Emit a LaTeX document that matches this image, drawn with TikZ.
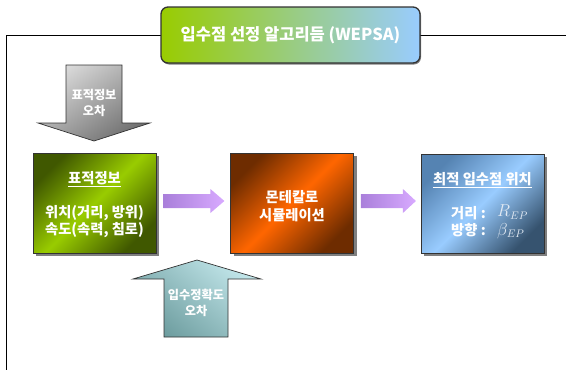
\documentclass[tikz,border=0pt]{standalone}
\usepackage{fontspec}
\newfontfamily\kr{Noto Sans CJK KR}
\usetikzlibrary{shadows}
\definecolor{greenD}{HTML}{405800}
\definecolor{greenL}{HTML}{99CC00}
\definecolor{orangeD}{HTML}{6E2C00}
\definecolor{orangeL}{HTML}{FF6600}
\definecolor{blueD}{HTML}{36536F}
\definecolor{blueL}{HTML}{99CCFF}
\definecolor{blueM}{HTML}{5583B2}
\definecolor{purpD}{HTML}{A47AD6}
\definecolor{purpL}{HTML}{D8AAFF}
\definecolor{grayL}{HTML}{DADADA}
\definecolor{grayD}{HTML}{707070}
\definecolor{tealL}{HTML}{C2E6EA}
\definecolor{tealD}{HTML}{6C9C9E}
\definecolor{edge}{HTML}{333333}
\definecolor{mathc}{HTML}{E2EAF3}
\tikzset{
  box/.style={draw=edge, line width=0.8pt, minimum width=123pt, minimum height=100pt, inner sep=0pt,
    drop shadow={shadow xshift=3pt, shadow yshift=-3pt, fill=black, opacity=0.5}},
  lbl/.style={text=white, font=\kr\bfseries\fontsize{14.3}{16}\selectfont, inner sep=0pt},
  albl/.style={text=white, font=\kr\bfseries\fontsize{12.2}{14}\selectfont, inner sep=0pt},
  blockarrow/.style={draw=edge, line width=0.7pt},
}
\begin{document}
\begin{tikzpicture}[x=1pt,y=-1pt]
\useasboundingbox (0,0) rectangle (566,370);
% frame
\coordinate (fr) at (566,35);
\coordinate (fl) at (6,35);
\coordinate (fb) at (6,370);
\draw[line width=0.9pt] (fr) -- (fl) -- (fb);
% title
\node[draw=edge, line width=1.3pt, rounded corners=7pt, minimum width=259pt, minimum height=56pt,
  left color=greenL, right color=blueL, inner sep=0pt,
  drop shadow={shadow xshift=1pt, shadow yshift=-1.5pt, fill=black, opacity=0.5},
  text=white, font=\kr\bfseries\fontsize{16.5}{18}\selectfont] (title) at (290.5,35) {입수점 선정 알고리듬 (WEPSA)};
% gray arrow (down)
\path[blockarrow, top color=grayL, bottom color=grayD, shading angle=35]
  (66,65) -- (122,65) -- (122,123) -- (150,123) -- (94,141) -- (38,123) -- (66,123) -- cycle;
\node[albl] (ga1) at (94,95) {표적정보};
\node[albl] (ga2) at (94,111) {오차};
% boxes
\node[box, top color=greenD, bottom color=greenD, middle color=greenL, shading angle=45] (tgt) at (94.5,203) {};
\node[box, top color=orangeD, bottom color=orangeD, middle color=orangeL, shading angle=45] (mc) at (292,203) {};
\node[box, top color=blueM, bottom color=blueD, middle color=blueL, shading angle=45, minimum height=99pt] (opt) at (482.5,203.5) {};
% green box text
\node[lbl] (t1) at (94.5,179) {\underline{표적정보}};
\node[lbl] (t2) at (94.5,213) {위치(거리, 방위)};
\node[lbl] (t3) at (94.5,230) {속도(속력, 침로)};
% orange box text
\node[lbl] (m1) at (292,197) {몬테칼로};
\node[lbl] (m2) at (292,215) {시뮬레이션};
% blue box text
\node[lbl] (o1) at (482.5,180) {\underline{최적 입수점 위치}};
\node[lbl, anchor=west] (o2) at (451,213) {거리 :};
\node[lbl, anchor=west] (o3) at (451,230) {방향 :};
\node[text=mathc, inner sep=0pt, anchor=west, font=\fontsize{16}{16}\selectfont] (o4) at (497,212) {$R_{EP}$};
\node[text=mathc, inner sep=0pt, anchor=west, font=\fontsize{16}{16}\selectfont] (o5) at (497,231) {$\beta_{EP}$};
% purple arrows
\path[blockarrow, draw=none, left color=purpD, right color=purpL]
  (tgt.east) ++(7,-9) coordinate (pa1) -- ++(47,0) -- ++(0,-5) -- ++(14,12) -- ++(-14,12) -- ++(0,-5) -- ++(-47,0) -- cycle;
\path[blockarrow, draw=none, left color=purpD, right color=purpL]
  (mc.east) ++(7,-9) coordinate (pa2) -- ++(42,0) -- ++(0,-5) -- ++(13,12) -- ++(-13,12) -- ++(0,-5) -- ++(-42,0) -- cycle;
% teal arrow (up)
\path[blockarrow, top color=tealL, bottom color=tealD, shading angle=-40]
  (164,337) -- (228,337) -- (228,279) -- (261,279) -- (197,260) -- (133,279) -- (164,279) -- cycle;
\node[albl] (ta1) at (196,295) {입수정확도};
\node[albl] (ta2) at (196,311) {오차};
\end{tikzpicture}
\end{document}
